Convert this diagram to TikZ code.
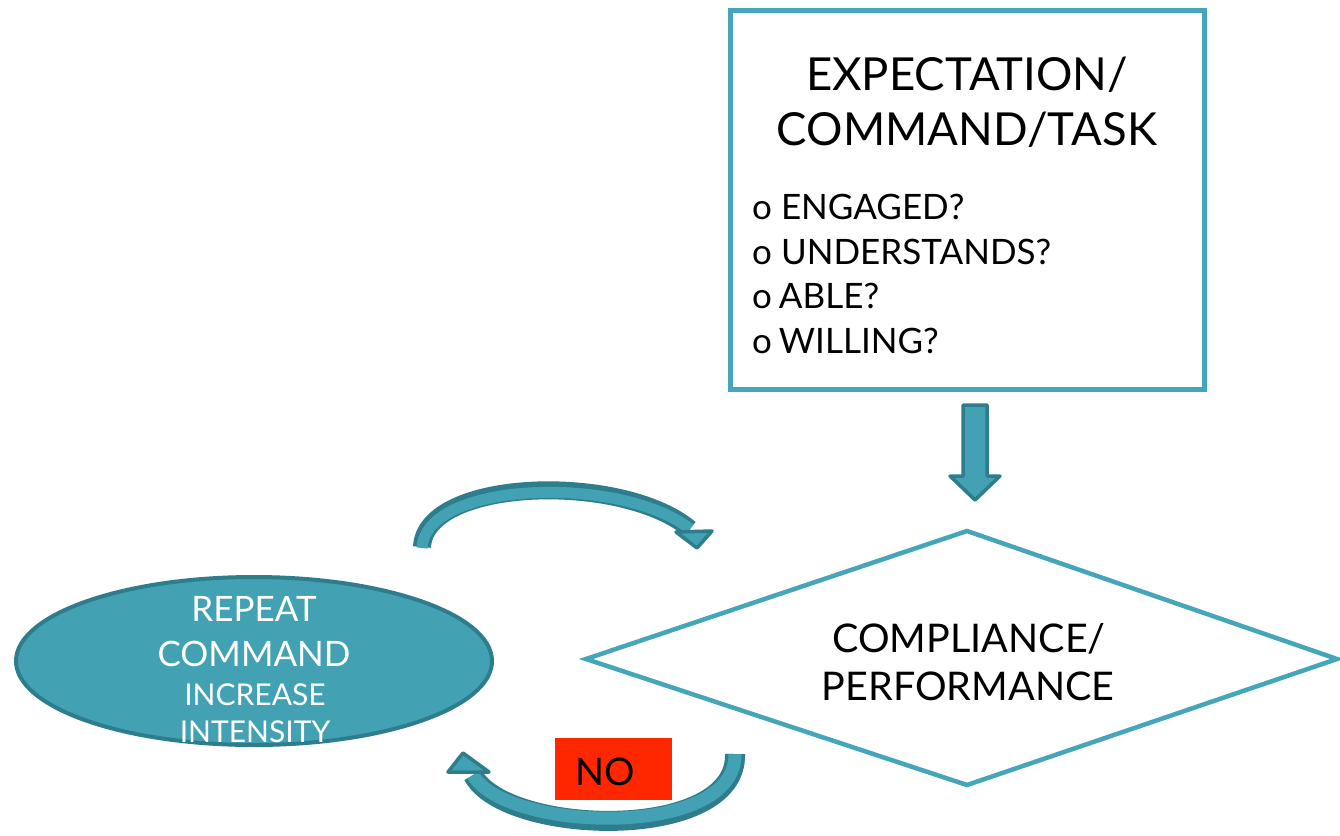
\documentclass[tikz,border=0pt]{standalone}
\usepackage{fontspec}
\setmainfont{Lato}
\usetikzlibrary{shapes.geometric}
\definecolor{tealline}{HTML}{46A6B9}
\definecolor{tealfill}{HTML}{43A1B4}
\definecolor{tealdark}{HTML}{2E7D8C}
\definecolor{nored}{HTML}{FF2600}
\tikzset{
  big/.style={font=\fontsize{45.5}{50}\selectfont, inner sep=0pt},
  mid/.style={font=\fontsize{39.5}{46}\selectfont, inner sep=0pt, anchor=base},
  item/.style={font=\fontsize{35}{40}\selectfont, inner sep=0pt, anchor=base west},
  ell/.style={font=\fontsize{35}{40}\selectfont, inner sep=0pt, text=white, anchor=base},
  ellsmall/.style={font=\fontsize{30}{34}\selectfont, inner sep=0pt, text=white, anchor=base},
  band/.style={line width=18pt, tealdark},
  bandin/.style={line width=11pt, tealfill},
  headst/.style={fill=tealfill, draw=tealdark, line width=3.5pt, line join=round},
}
\begin{document}
\begin{tikzpicture}[x=1pt,y=-1pt]
\useasboundingbox (0,0) rectangle (1340,835);
% top box
\node[draw=tealline, line width=5pt, minimum width=474pt, minimum height=379pt, inner sep=0pt] (box) at (967,199.5) {};
\node[big, anchor=base] (t1) at (967,90) {EXPECTATION/};
\node[big, anchor=base] (t2) at (967,145) {COMMAND/TASK};
\node[item] (i1) at (752,219) {o ENGAGED?};
\node[item] (i2) at (752,264) {o UNDERSTANDS?};
\node[item] (i3) at (752,308) {o\kern-2pt\ ABLE?};
\node[item] (i4) at (752,353) {o\kern-2pt\ WILLING?};
% diamond
\coordinate (dl) at (586,659);
\coordinate (dt) at (967,531);
\coordinate (dr) at (1337,659);
\coordinate (db) at (967,785);
\draw[tealline, line width=4.5pt, line join=miter] (dl) -- (dt) -- (dr) -- (db) -- cycle;
\node[mid] (c1) at (969,652) {COMPLIANCE/};
\node[mid] (c2) at (968,700) {PERFORMANCE};
% ellipse
\node[ellipse, fill=tealfill, draw=tealdark, line width=4pt, minimum width=476pt, minimum height=168pt, inner sep=0pt] (ell) at (254,661) {};
\node[ell] (e1) at (254,621) {REPEAT};
\node[ell] (e2) at (254,666) {COMMAND};
\node[ellsmall] (e3) at (255,705) {INCREASE};
\node[ellsmall] (e4) at (255,742) {INTENSITY};
% down arrow
\draw[headst] (963,405) -- (987,405) -- (987,476) -- (1000,476) -- (975,500) -- (950,476) -- (963,476) -- cycle;
% top curved arrow
\coordinate (a1) at (422,547);
\coordinate (a2) at (690,529);
\draw[band] (a1) .. controls (425,478) and (622,472) .. (a2);
\draw[bandin] ([yshift=-1pt]a1) .. controls (426,480) and (622,475) .. (a2);
\draw[headst] (676,532) -- (712,531) -- (697,548) -- cycle;
% bottom curved arrow
\coordinate (b1) at (735,754);
\coordinate (b2) at (473,775);
\draw[band, line width=20pt] (b1) .. controls (738,843) and (505,836) .. (b2);
\draw[bandin, line width=13pt] (b1) .. controls (736,840) and (505,832) .. (b2);
\draw[headst] (448,772) -- (463,753) -- (489,772) -- cycle;
% NO box
\node[fill=nored, minimum width=117pt, minimum height=62pt, inner sep=0pt] (no) at (613.5,769) {};
\node[font=\fontsize{38}{44}\selectfont, inner sep=0pt, anchor=base] (not) at (605,785) {NO};
\end{tikzpicture}
\end{document}
